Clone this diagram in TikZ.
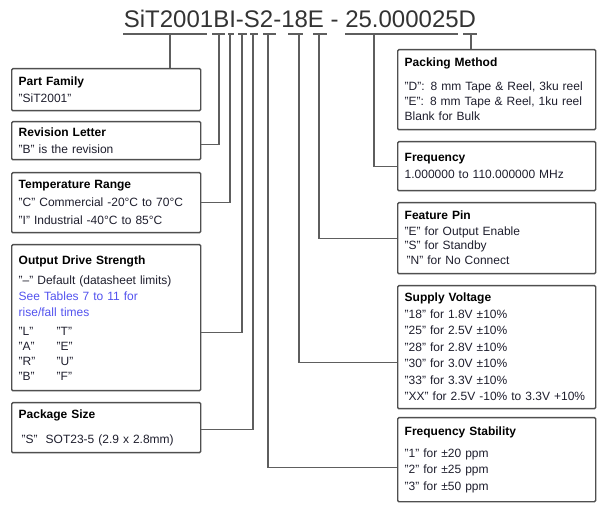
\documentclass[tikz,border=0pt]{standalone}
\usepackage{fontspec}
\setmainfont{Liberation Sans}
\definecolor{boxline}{HTML}{4F4F4F}
\definecolor{wire}{HTML}{5E5E5E}
\definecolor{bodytext}{HTML}{1E1E2D}
\definecolor{seeblue}{HTML}{5252EE}
\newcommand{\boxfont}{\fontsize{12}{15}\selectfont}
\newcommand{\pnfont}{\fontsize{24}{28}\selectfont}

\begin{document}
\begin{tikzpicture}[x=1pt,y=-1pt,
    infobox/.style={draw=boxline, line width=1.4pt, rounded corners=1.2pt, anchor=north west,
        inner xsep=7pt, inner ysep=0pt, text width=#1, align=left, font=\boxfont, text=bodytext},
    link/.style={draw=wire, line width=1.3pt},
    uline/.style={draw=wire, line width=1.5pt}]
    \useasboundingbox (0,0) rectangle (600,510);

    % part number and its fields
    \node (pn) at (300,28) [anchor=base, font=\pnfont, text=black!80, inner sep=0pt] {SiT2001BI-S2-18E - 25.000025D};
    \foreach \a/\b/\t/\n in {123/207/170/fam, 212/225/219/rev, 228/234/230/temp, 238/247/242/drive,
        250/258/253/pkg, 263/276/268/stab, 288/303/299/volt, 313/327/319/pin, 345/458/374/freq, 463/477/471/pack} {
        \draw[uline] (\a,34) -- (\b,34);
        \coordinate (t\n) at (\t,34);
    }

    % left column
    \node (fam) at (11,68) [infobox=175pt, minimum height=42pt] {\textbf{\color{black}Part Family}\\[2pt]
        "SiT2001"};
    \node (rev) at (11,121) [infobox=175pt, minimum height=38pt] {\textbf{\color{black}Revision Letter}\\[2pt]
        "B" is the revision};
    \node (temp) at (11,172) [infobox=175pt, minimum height=60pt] {\textbf{\color{black}Temperature Range}\\[3pt]
        "C" Commercial -20°C to 70°C\\[3pt]
        "I" Industrial -40°C to 85°C};
    \node (drive) at (11,244) [infobox=175pt, minimum height=146pt] {\textbf{\color{black}Output Drive Strength}\\[5pt]
        "–" Default (datasheet limits)\\[1pt]
        {\color{seeblue}See Tables 7 to 11 for\\[1pt] rise/fall times}\\[4pt]
        \makebox[38pt][l]{"L"}"T"\\
        \makebox[38pt][l]{"A"}"E"\\
        \makebox[38pt][l]{"R"}"U"\\
        \makebox[38pt][l]{"B"}"F"};
    \node (pkg) at (11,402) [infobox=175pt, minimum height=50pt] {\textbf{\color{black}Package Size}\\[10pt]
        \hspace{3pt}"S"\hspace{8pt}SOT23-5 (2.9 x 2.8mm)};

    % right column
    \node (pack) at (397,49) [infobox=184pt, minimum height=80pt] {\textbf{\color{black}Packing Method}\\[9pt]
        "D": 8 mm Tape \& Reel, 3ku reel\\
        "E": 8 mm Tape \& Reel, 1ku reel\\
        Blank for Bulk};
    \node (freq) at (397,141) [infobox=184pt, minimum height=49pt] {\textbf{\color{black}Frequency}\\[2pt]
        1.000000 to 110.000000 MHz};
    \node (pin) at (397,202) [infobox=184pt, minimum height=71pt] {\textbf{\color{black}Feature Pin}\\[1pt]
        "E" for Output Enable\\[-1pt]
        "S" for Standby\\
        \hspace{2pt}"N" for No Connect};
    \node (volt) at (397,285) [infobox=184pt, minimum height=123pt] {\textbf{\color{black}Supply Voltage}\\[1.5pt]
        "18" for 1.8V ±10\%\\[1.5pt]
        "25" for 2.5V ±10\%\\[1.5pt]
        "28" for 2.8V ±10\%\\[1.5pt]
        "30" for 3.0V ±10\%\\[1.5pt]
        "33" for 3.3V ±10\%\\[1.5pt]
        "XX" for 2.5V -10\% to 3.3V +10\%};
    \node (stab) at (397,417) [infobox=184pt, minimum height=84pt] {\textbf{\color{black}Frequency Stability}\\[7pt]
        "1" for ±20 ppm\\[1.5pt]
        "2" for ±25 ppm\\[2pt]
        "3" for ±50 ppm};

    % connectors
    \draw[link] (tfam) -- (tfam |- fam.north);
    \draw[link] (trev) |- ([yshift=-4pt]rev.east);
    \draw[link] (ttemp) |- (temp.east);
    \draw[link] (tdrive) |- ([yshift=-15pt]drive.east);
    \draw[link] (tpkg) |- ([yshift=-2pt]pkg.east);
    \draw[link] (tstab) |- ([yshift=-8pt]stab.west);
    \draw[link] (tvolt) |- ([yshift=-15pt]volt.west);
    \draw[link] (tpin) |- (pin.west);
    \draw[link] (tfreq) |- (freq.west);
    \draw[link] (tpack) -- (tpack |- pack.north);
\end{tikzpicture}
\end{document}
